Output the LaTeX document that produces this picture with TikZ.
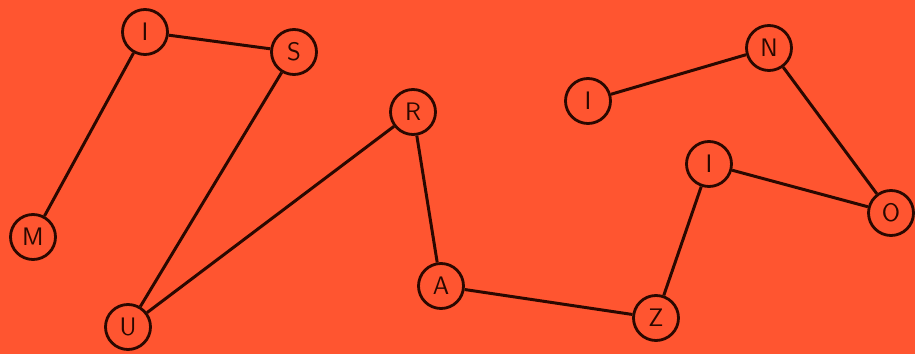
\documentclass[tikz,border=0pt]{standalone}
\usepackage{tikz}
\usetikzlibrary{positioning}
\definecolor{bgorange}{HTML}{FF5530}
\definecolor{inkbrown}{HTML}{2A0800}

\begin{document}
\begin{tikzpicture}[
  letter/.style={circle, draw=inkbrown, line width=1.6pt, minimum size=0.9cm, inner sep=0pt, font=\sffamily\Large, text=inkbrown},
  link/.style={draw=inkbrown, line width=1.7pt}
]
\fill[bgorange] (0,0) rectangle (18.3,7.08);
\useasboundingbox (0,0) rectangle (18.3,7.08);
% letters
\node[letter] (i1) at (2.90,6.44) {I};
\node[letter] (s) at (5.88,6.04) {S};
\node[letter] (m) at (0.66,2.34) {M};
\node[letter] (u) at (2.56,0.54) {U};
\node[letter] (r) at (8.26,4.84) {R};
\node[letter] (a) at (8.82,1.36) {A};
\node[letter] (z) at (13.12,0.72) {Z};
\node[letter] (i2) at (14.18,3.80) {I};
\node[letter] (n) at (15.38,6.12) {N};
\node[letter] (i3) at (11.76,5.06) {I};
\node[letter] (o) at (17.82,2.82) {O};
% links
\draw[link] (i1) -- (s);
\draw[link] (i1) -- (m);
\draw[link] (s) -- (u);
\draw[link] (u) -- (r);
\draw[link] (r) -- (a);
\draw[link] (a) -- (z);
\draw[link] (z) -- (i2);
\draw[link] (i2) -- (o);
\draw[link] (o) -- (n);
\draw[link] (n) -- (i3);
\end{tikzpicture}
\end{document}
